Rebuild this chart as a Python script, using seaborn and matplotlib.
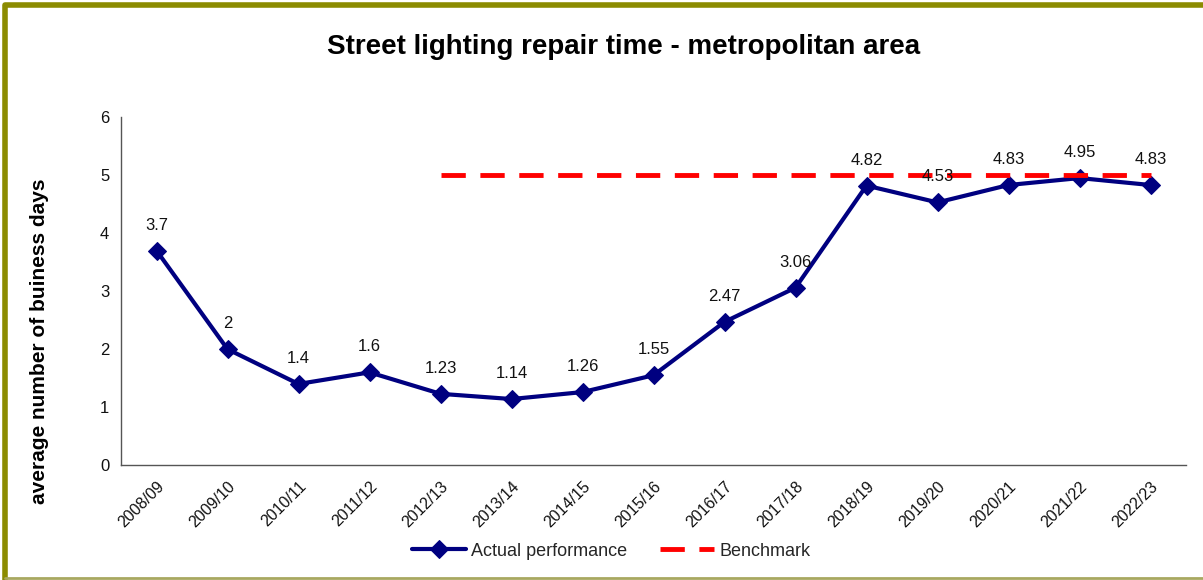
import matplotlib
matplotlib.use("Agg")
import matplotlib.pyplot as plt
import seaborn as sns
import numpy as np
import pandas as pd
from matplotlib.lines import Line2D

years = ["2008/09", "2009/10", "2010/11", "2011/12", "2012/13", "2013/14", "2014/15",
         "2015/16", "2016/17", "2017/18", "2018/19", "2019/20", "2020/21", "2021/22", "2022/23"]
actual = [3.7, 2, 1.4, 1.6, 1.23, 1.14, 1.26, 1.55, 2.47, 3.06, 4.82, 4.53, 4.83, 4.95, 4.83]
bench_years = years[4:]
benchmark = [5] * len(bench_years)

sns.set_style("white")
plt.rcParams["font.family"] = ["Liberation Sans", "DejaVu Sans"]

df = pd.DataFrame({"pos": np.arange(len(years)), "value": actual})
df_b = pd.DataFrame({"pos": [years.index(y) for y in bench_years], "value": benchmark})

fig = plt.figure(figsize=(12.03, 5.8), dpi=100)
ax = fig.add_axes([121 / 1203, 0.198, (1186 - 121) / 1203, 0.6])

sns.lineplot(data=df, x="pos", y="value", ax=ax, color="#000080", lw=3,
             marker="D", markersize=9, markeredgecolor="#000080", label="Actual performance")
sns.lineplot(data=df_b, x="pos", y="value", ax=ax, color="#FF0000", lw=3.5,
             dashes=False, label="Benchmark")
ax.lines[-1].set_dashes([5, 3])

for i, v in enumerate(actual):
    ax.annotate(f"{v:g}", (i, v), xytext=(0, 13), textcoords="offset points",
                ha="center", va="bottom", fontsize=12, color="#111111")

ax.set_xlim(-0.5, len(years) - 0.5)
ax.set_ylim(0, 6)
ax.set_xticks(np.arange(len(years)))
ax.set_xticklabels(years, rotation=45, ha="right", rotation_mode="anchor", fontsize=11.5,
                   color="#111111")
ax.set_xticks(np.arange(-0.5, len(years)), minor=True)
ax.tick_params(axis="x", which="major", length=0, pad=10)
ax.tick_params(axis="x", which="minor", length=5, color="#555555", width=1)
ax.set_yticks(range(7))
ax.tick_params(axis="y", length=5, color="#555555", width=1, labelsize=12, labelcolor="#111111")
for s in ["top", "right"]:
    ax.spines[s].set_visible(False)
for s in ["left", "bottom"]:
    ax.spines[s].set_color("#555555")
    ax.spines[s].set_linewidth(1)

ax.set_xlabel("")
ax.set_ylabel("average number of buiness days", fontsize=15, fontweight="bold", color="black")
ax.yaxis.set_label_coords(-0.068, 0.355)
fig.text(0.518, 0.919, "Street lighting repair time - metropolitan area",
         ha="center", va="center", fontsize=20, fontweight="bold", color="black")

ax.legend(loc="center", bbox_to_anchor=(0.508, 0.05), bbox_transform=fig.transFigure,
          ncol=2, frameon=False, fontsize=13, handlelength=3.0, columnspacing=1.8,
          handletextpad=0.3)

# frame around the chart: thick olive top/left, thin pale bottom
fig.lines.append(Line2D([0.004, 0.004, 1.0], [0.0, 0.991, 0.991], transform=fig.transFigure,
                        color="#8B8B00", lw=4, solid_capstyle="butt"))
fig.lines.append(Line2D([0.004, 1.0], [0.004, 0.004], transform=fig.transFigure,
                        color="#A8A860", lw=2))

fig.savefig("out.png", dpi=100)
